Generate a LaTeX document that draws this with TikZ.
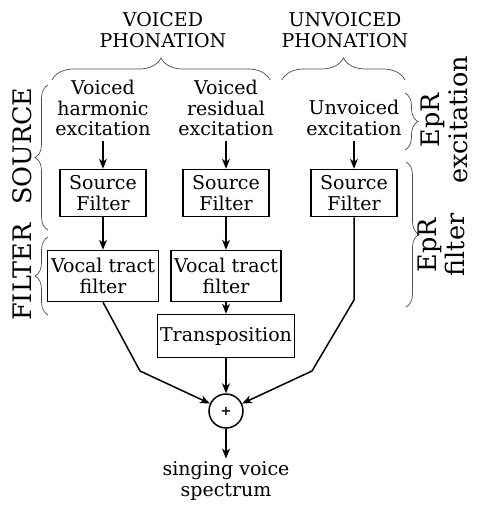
\documentclass[tikz,border=0pt]{standalone}
\usepackage{fontspec}
\setmainfont{DejaVu Serif}
\usetikzlibrary{arrows.meta,decorations.pathreplacing}

\begin{document}
\begin{tikzpicture}[x=1pt,y=-1pt,>={Stealth[length=10pt,width=8pt,inset=3pt]},
    txt/.style={align=center,font=\fontsize{19}{20.5}\selectfont,inner sep=0pt},
    blk/.style={draw,line width=1.5pt,align=center,font=\fontsize{19}{20.5}\selectfont,inner sep=0pt},
    side/.style={rotate=90,align=center,font=\fontsize{25.5}{28}\selectfont,inner sep=0pt},
    brc/.style={decorate,decoration={brace,amplitude=#1},line width=0.7pt,draw=black!70},
    flow/.style={->,line width=1.5pt}]
    \useasboundingbox (0,0) rectangle (478,512);
    % Titulos
    \node[txt] (vph) at (163,30) {VOICED\\PHONATION};
    \node[txt] (uph) at (345,30) {UNVOICED\\PHONATION};
    % Chaves
    \draw[brc=22] (52,80) -- (270,80);
    \draw[brc=22] (282,80) -- (405,80);
    \draw[brc=13] (48,230) -- (48,85);
    \draw[brc=13] (48,315) -- (48,237);
    \draw[brc=13] (405,93) -- (405,150);
    \draw[brc=13] (406,162) -- (406,307);
    % Rotulos laterais
    \node[side] (src) at (22,146) {SOURCE};
    \node[side] (flt) at (22,272) {FILTER};
    \node[side] (eexc) at (444,120) {EpR\\excitation};
    \node[side] (eflt) at (441,245) {EpR\\filter};
    % Excitacoes
    \node[txt] (harm) at (103,108) {Voiced\\harmonic\\excitation};
    \node[txt] (resid) at (226,108) {Voiced\\residual\\excitation};
    \node[txt] (unv) at (354,118) {Unvoiced\\excitation};
    % Blocos
    \node[blk,minimum width=86pt,minimum height=47pt] (sf1) at (103,193) {Source\\Filter};
    \node[blk,minimum width=86pt,minimum height=47pt] (sf2) at (226,193) {Source\\Filter};
    \node[blk,minimum width=86pt,minimum height=47pt] (sf3) at (354,193) {Source\\Filter};
    \node[blk,minimum width=111pt,minimum height=51pt] (vt1) at (103,276) {Vocal tract\\filter};
    \node[blk,minimum width=110pt,minimum height=51pt] (vt2) at (226,276) {Vocal tract\\filter};
    \node[blk,minimum width=137pt,minimum height=43pt] (tr) at (226,336) {Transposition};
    \node[draw,circle,line width=1.5pt,minimum size=34pt,inner sep=0pt,font=\bfseries\fontsize{13}{13}\selectfont] (sum) at (226,411) {+};
    \node[txt] (out) at (226,481) {singing voice\\spectrum};
    \coordinate (k1) at (140,371);
    \coordinate (k2) at (354,300);
    \coordinate (k3) at (312,371);
    % Ligacoes
    \draw[flow] ([yshift=-5pt]harm.south) -- (sf1);
    \draw[flow] ([yshift=-5pt]resid.south) -- (sf2);
    \draw[flow] ([yshift=-5pt]unv.south) -- (sf3);
    \draw[flow] (sf1) -- (vt1);
    \draw[flow] (sf2) -- (vt2);
    \draw[flow] (vt2) -- (tr);
    \draw[flow] (tr) -- (sum);
    \draw[flow] (vt1.south) -- (k1) -- (sum);
    \draw[flow] (sf3.south) -- (k2) -- (k3) -- (sum);
    \draw[flow] (sum) -- ([yshift=3pt]out.north);
\end{tikzpicture}
\end{document}
